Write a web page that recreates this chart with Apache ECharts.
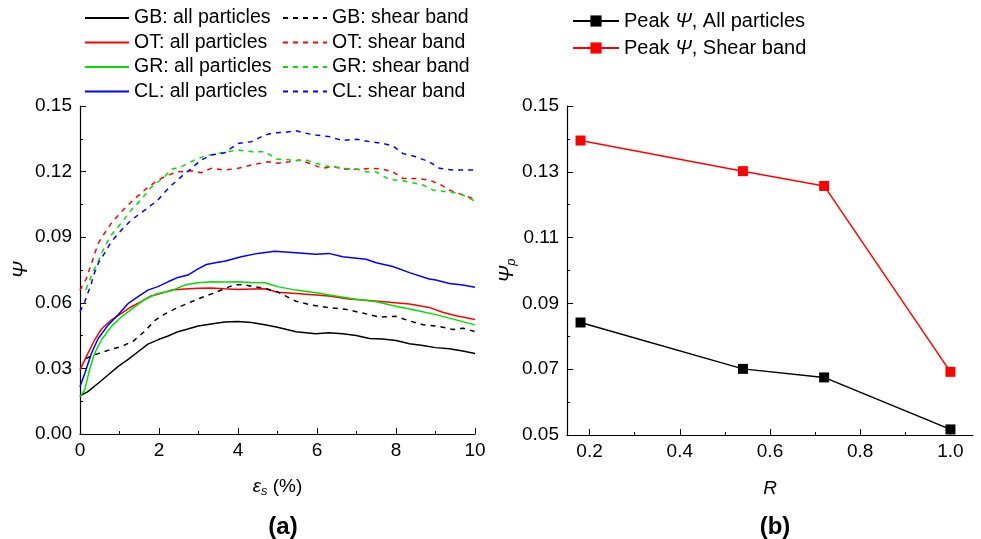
<!DOCTYPE html>
<html><head><meta charset="utf-8">
<script src="https://cdn.jsdelivr.net/npm/echarts@6/dist/echarts.min.js"></script>
<style>html,body{margin:0;padding:0;background:#fff}#c{width:981px;height:539px}</style>
</head><body><div id="c"></div>
<script>
// ---- (a) strain vs Psi, pairs [strain %, Psi]
const gbAll = [[0,0.0174],[0.2,0.0194],[0.46,0.0232],[0.71,0.027],[0.96,0.0308],[1.22,0.0341],[1.47,0.0376],[1.72,0.0411],[2.0,0.0433],[2.23,0.0448],[2.48,0.0468],[2.73,0.048],[2.99,0.0494],[3.32,0.0503],[3.66,0.0512],[4.0,0.0515],[4.34,0.051],[4.68,0.05],[5.0,0.0488],[5.47,0.0468],[5.97,0.0459],[6.3,0.0463],[6.65,0.0458],[6.99,0.045],[7.33,0.0437],[7.66,0.0434],[8.0,0.0428],[8.34,0.0413],[8.68,0.0405],[9.0,0.0395],[9.35,0.039],[9.69,0.038],[10,0.0368]];
const gbShear = [[0.15,0.0345],[0.3,0.0358],[0.5,0.037],[0.8,0.0388],[1.05,0.04],[1.35,0.0425],[1.64,0.047],[1.9,0.052],[2.14,0.0548],[2.4,0.0572],[2.73,0.0598],[3.05,0.0622],[3.4,0.0645],[3.66,0.0665],[3.92,0.0683],[4.17,0.0682],[4.42,0.0673],[4.68,0.0666],[5.0,0.065],[5.2,0.0632],[5.47,0.0607],[5.8,0.0592],[6.3,0.0578],[6.73,0.057],[7.16,0.0553],[7.58,0.0535],[8.0,0.0538],[8.34,0.0517],[8.68,0.05],[9.1,0.0492],[9.44,0.0478],[9.7,0.0484],[10,0.0468]];
const otAll = [[0,0.0293],[0.2,0.0369],[0.37,0.043],[0.54,0.0479],[0.79,0.0521],[1.05,0.0552],[1.3,0.0582],[1.55,0.0605],[1.8,0.0631],[2.06,0.0643],[2.31,0.0658],[2.65,0.0663],[2.99,0.0666],[3.32,0.0668],[3.66,0.0664],[4.0,0.0661],[4.34,0.0663],[4.68,0.0664],[5.0,0.0648],[5.47,0.0643],[5.97,0.0636],[6.3,0.0631],[6.8,0.0617],[7.33,0.061],[7.83,0.0603],[8.34,0.0595],[8.84,0.0579],[9.18,0.0557],[9.52,0.0541],[10,0.0524]];
const otShear = [[0,0.0658],[0.16,0.071],[0.29,0.078],[0.46,0.0872],[0.62,0.0918],[0.79,0.0963],[1.05,0.1017],[1.3,0.1062],[1.64,0.1116],[1.97,0.1161],[2.23,0.1184],[2.48,0.1199],[2.82,0.1204],[3.07,0.1195],[3.32,0.1215],[3.66,0.1207],[4.0,0.1215],[4.34,0.123],[4.76,0.1245],[5.0,0.1238],[5.3,0.1245],[5.55,0.1253],[5.8,0.1238],[6.14,0.1215],[6.4,0.1223],[6.73,0.1211],[7.07,0.1211],[7.4,0.1215],[7.66,0.1211],[7.92,0.1199],[8.17,0.1169],[8.5,0.1169],[8.84,0.1161],[9.1,0.1143],[9.35,0.1116],[9.69,0.1093],[10,0.1073]];
const grAll = [[0,0.0171],[0.12,0.0201],[0.24,0.0293],[0.37,0.0369],[0.54,0.043],[0.79,0.0491],[1.05,0.0536],[1.3,0.057],[1.64,0.0616],[1.97,0.0643],[2.31,0.0655],[2.65,0.0681],[2.99,0.0692],[3.32,0.0696],[3.66,0.0695],[4.0,0.0696],[4.34,0.0693],[4.68,0.0692],[5.0,0.0674],[5.47,0.0658],[5.97,0.0646],[6.47,0.0631],[6.99,0.0616],[7.5,0.0605],[8.0,0.0584],[8.5,0.0566],[9.01,0.0546],[9.52,0.0522],[10,0.0499]];
const grShear = [[0.15,0.066],[0.3,0.073],[0.46,0.079],[0.62,0.0855],[0.79,0.091],[1.05,0.0965],[1.3,0.1025],[1.55,0.1072],[1.8,0.1128],[2.14,0.1176],[2.31,0.121],[2.57,0.1223],[2.9,0.1253],[3.16,0.1271],[3.49,0.1283],[4.0,0.1299],[4.34,0.1291],[4.68,0.1291],[5.0,0.1256],[5.2,0.1256],[5.47,0.125],[5.72,0.1253],[5.97,0.1238],[6.3,0.1223],[6.65,0.1215],[6.99,0.1212],[7.24,0.1199],[7.5,0.1199],[7.83,0.1164],[8.17,0.1158],[8.42,0.1149],[8.68,0.1139],[8.93,0.1116],[9.27,0.1108],[9.6,0.1101],[9.86,0.1078],[10,0.1065]];
const clAll = [[0,0.0216],[0.12,0.0277],[0.29,0.0369],[0.46,0.0437],[0.71,0.0498],[0.96,0.0544],[1.22,0.0597],[1.47,0.0628],[1.72,0.0658],[1.97,0.0674],[2.23,0.0696],[2.48,0.0716],[2.73,0.0727],[2.99,0.0755],[3.2,0.0775],[3.49,0.0785],[3.66,0.079],[4.08,0.0811],[4.5,0.0826],[4.93,0.0836],[5.47,0.0829],[5.97,0.0822],[6.3,0.0826],[6.65,0.0811],[7.24,0.0799],[7.5,0.0783],[7.92,0.0766],[8.34,0.0738],[8.84,0.0709],[9.01,0.0704],[9.35,0.0688],[9.69,0.0681],[10,0.0671]];
const clShear = [[0,0.0559],[0.12,0.0605],[0.29,0.0689],[0.33,0.072],[0.46,0.078],[0.62,0.0826],[0.79,0.0879],[1.05,0.0933],[1.3,0.0979],[1.64,0.1024],[1.97,0.107],[2.23,0.1123],[2.48,0.1164],[2.82,0.1215],[3.07,0.1253],[3.32,0.1276],[3.66,0.1286],[4.0,0.1329],[4.34,0.1337],[4.68,0.1367],[4.93,0.1378],[5.2,0.138],[5.47,0.1387],[5.72,0.1375],[5.97,0.1367],[6.3,0.136],[6.65,0.1342],[6.99,0.1348],[7.33,0.1337],[7.66,0.1329],[7.92,0.1317],[8.17,0.1283],[8.5,0.1268],[8.84,0.1245],[9.1,0.1215],[9.44,0.1207],[10,0.1207]];

// ---- (b) peak Psi vs R
const rValues = [0.18, 0.54, 0.72, 1.0];
const peakAll = [0.0842, 0.0701, 0.0675, 0.0517];
const peakShear = [0.1395, 0.1302, 0.1257, 0.0692];

// ---- tick labels
const rTickLabels = [0.2, 0.4, 0.6, 0.8, 1.0];
const rMinorTicks = [0.3, 0.5, 0.7, 0.9];
const psiPTickLabels = [0.05, 0.07, 0.09, 0.11, 0.13, 0.15];
const psiPMinorTicks = [0.06, 0.08, 0.10, 0.12, 0.14];

const FONT = 'Liberation Sans';
const txt = {fontFamily: FONT, fontSize: 19, color: '#000'};
const axLine = {show: true, lineStyle: {color: '#000', width: 1.2}};

const leftSeries = [
  ['GB: all particles', gbAll, '#000000', 'solid'],
  ['OT: all particles', otAll, '#ff0000', 'solid'],
  ['GR: all particles', grAll, '#00e000', 'solid'],
  ['CL: all particles', clAll, '#0000ff', 'solid'],
  ['GB: shear band', gbShear, '#000000', [5,5]],
  ['OT: shear band', otShear, '#ff0000', [5,5]],
  ['GR: shear band', grShear, '#00e000', [5,5]],
  ['CL: shear band', clShear, '#0000ff', [5,5]]
].map(([name, data, color, type]) => ({
  name, type: 'line', xAxisIndex: 0, yAxisIndex: 0, data, symbol: 'none',
  color, lineStyle: {color, width: 1.5, type}
}));

const rightSeries = [
  ['Peak Ψ, All particles', peakAll, '#000000'],
  ['Peak Ψ, Shear band', peakShear, '#ff0000']
].map(([name, vals, color]) => ({
  name, type: 'line', xAxisIndex: 1, yAxisIndex: 1,
  data: rValues.map((r, i) => [r, vals[i]]),
  symbol: 'rect', symbolSize: 10, color,
  itemStyle: {color}, lineStyle: {color, width: 1.5}
}));

const legendText = {fontFamily: FONT, fontSize: 19.5, color: '#000', lineHeight: 14};
const chart = echarts.init(document.getElementById('c'), null, {renderer: 'canvas'});
chart.setOption({
  animation: false,
  backgroundColor: '#fff',
  title: [
    {text: '(a)', left: 278, top: 510, textAlign: 'center', textStyle: {fontFamily: FONT, fontSize: 24, fontWeight: 'bold', color: '#000'}},
    {text: '(b)', left: 770, top: 510, textAlign: 'center', textStyle: {fontFamily: FONT, fontSize: 24, fontWeight: 'bold', color: '#000'}}
  ],
  legend: [
    {data: leftSeries.slice(0,4).map(s => s.name), orient: 'vertical', left: 84, top: 8, padding: 0, itemWidth: 44, itemHeight: 14, itemGap: 4.5, itemStyle: {opacity: 0}, textStyle: legendText},
    {data: leftSeries.slice(4).map(s => s.name), orient: 'vertical', left: 282, top: 8, padding: 0, itemWidth: 44, itemHeight: 14, itemGap: 4.5, itemStyle: {opacity: 0}, textStyle: legendText},
    {data: rightSeries.map(s => s.name), orient: 'vertical', left: 572, top: 11, padding: 0, itemWidth: 46, itemHeight: 14, itemGap: 7,
     formatter: n => '{n|Peak }{i|Ψ}{n|, ' + n.split(', ')[1] + '}',
     textStyle: Object.assign({}, legendText, {rich: {
       n: {fontFamily: FONT, fontSize: 20, color: '#000', lineHeight: 14},
       i: {fontFamily: FONT, fontSize: 20, fontStyle: 'italic', color: '#000', lineHeight: 14}}})}
  ],
  grid: [
    {left: 80, top: 106, width: 395, height: 328},
    {left: 567, top: 106, width: 406, height: 329}
  ],
  xAxis: [
    {gridIndex: 0, type: 'value', min: 0, max: 10, interval: 2,
     axisLine: axLine, splitLine: {show: false},
     axisTick: {inside: true, length: 6, lineStyle: {color: '#000'}},
     minorTick: {show: true, splitNumber: 2, length: 3, lineStyle: {color: '#000'}},
     axisLabel: Object.assign({}, txt, {margin: 7}),
     name: '{i|ε}{s|s}{n| (%)}', nameLocation: 'middle', nameGap: 42,
     nameTextStyle: {rich: {i: {fontFamily: FONT, fontSize: 19, fontStyle: 'italic', color: '#000'}, s: {fontFamily: FONT, fontSize: 13, fontStyle: 'italic', color: '#000', padding: [9,0,0,0]}, n: {fontFamily: FONT, fontSize: 19, color: '#000'}}}},
    {gridIndex: 1, type: 'value', min: 0.15, max: 1.05,
     axisLine: axLine, splitLine: {show: false},
     axisTick: {inside: true, length: 6, lineStyle: {color: '#000'}, customValues: rTickLabels},
     axisLabel: Object.assign({}, txt, {margin: 7, customValues: rTickLabels, formatter: v => v.toFixed(1)}),
     name: 'R', nameLocation: 'middle', nameGap: 44,
     nameTextStyle: {fontFamily: FONT, fontSize: 19, fontStyle: 'italic', color: '#000'}},
    {gridIndex: 1, type: 'value', min: 0.15, max: 1.05, position: 'bottom', offset: 0,
     axisLine: {show: false}, splitLine: {show: false}, axisLabel: {show: false},
     axisTick: {show: true, inside: true, length: 3, lineStyle: {color: '#000'}, customValues: rMinorTicks}}
  ],
  yAxis: [
    {gridIndex: 0, type: 'value', min: 0, max: 0.15, interval: 0.03,
     axisLine: axLine, splitLine: {show: false},
     axisTick: {show: true, inside: true, length: 6, lineStyle: {color: '#000'}},
     minorTick: {show: true, splitNumber: 2, length: 3, lineStyle: {color: '#000'}},
     axisLabel: Object.assign({}, txt, {margin: 8, formatter: v => v.toFixed(2)}),
     name: 'Ψ', nameLocation: 'middle', nameGap: 38, nameRotate: 90,
     nameTextStyle: {fontFamily: FONT, fontSize: 20, fontStyle: 'italic', color: '#000'}},
    {gridIndex: 1, type: 'value', min: 0.05, max: 0.15,
     axisLine: axLine, splitLine: {show: false},
     axisTick: {show: true, inside: true, length: 6, lineStyle: {color: '#000'}, customValues: psiPTickLabels},
     axisLabel: Object.assign({}, txt, {margin: 8, customValues: psiPTickLabels, formatter: v => v.toFixed(2)}),
     name: '{i|Ψ}{s|p}', nameLocation: 'middle', nameGap: 49, nameRotate: 90,
     nameTextStyle: {rich: {i: {fontFamily: FONT, fontSize: 20, fontStyle: 'italic', color: '#000'}, s: {fontFamily: FONT, fontSize: 13, fontStyle: 'italic', color: '#000', padding: [9,0,0,0]}}}},
    {gridIndex: 1, type: 'value', min: 0.05, max: 0.15, position: 'left', offset: 0,
     axisLine: {show: false}, splitLine: {show: false}, axisLabel: {show: false},
     axisTick: {show: true, inside: true, length: 3, lineStyle: {color: '#000'}, customValues: psiPMinorTicks}}
  ],
  series: leftSeries.concat(rightSeries)
});
</script></body></html>
